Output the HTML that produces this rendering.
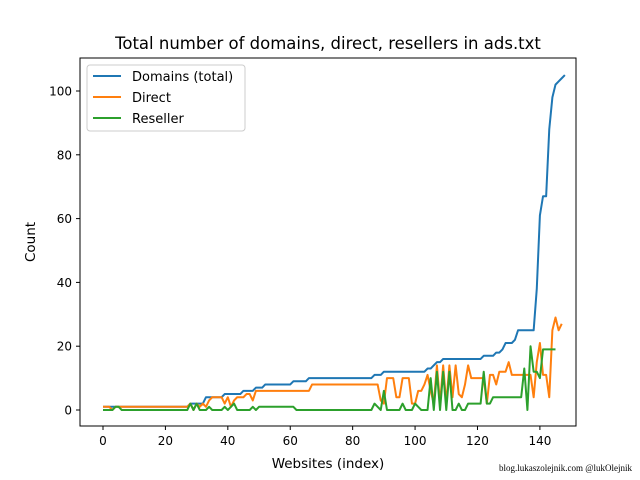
<!DOCTYPE html>
<html><head><meta charset="utf-8"><style>
body{margin:0;background:#fff;}
svg{display:block;font-family:"DejaVu Sans","Liberation Sans",sans-serif;}
</style></head><body>
<svg id="chart" width="640" height="480" viewBox="0 0 640 480">
<rect x="0" y="0" width="640" height="480" fill="#fff"/>
<text x="328" y="49" font-size="16.5" text-anchor="middle">Total number of domains, direct, resellers in ads.txt</text>
<g id="plot"></g>
<rect x="80" y="58" width="496" height="368" fill="none" stroke="#000" stroke-width="1"/>
<g id="xt"></g>
<g id="yt"></g>
<text x="328" y="468" font-size="13.5" text-anchor="middle">Websites (index)</text>
<text x="35" y="242" font-size="13.5" text-anchor="middle" transform="rotate(-90 35 242)">Count</text>
<g>
<rect x="87" y="65" width="158" height="66" rx="3" fill="#fff" stroke="#ccc" stroke-width="1"/>
<line x1="93" y1="76" x2="121" y2="76" stroke="#1f77b4" stroke-width="2"/>
<text x="132" y="81" font-size="13">Domains (total)</text>
<line x1="93" y1="97" x2="121" y2="97" stroke="#ff7f0e" stroke-width="2"/>
<text x="132" y="102" font-size="13">Direct</text>
<line x1="93" y1="118" x2="121" y2="118" stroke="#2ca02c" stroke-width="2"/>
<text x="132" y="123" font-size="13">Reseller</text>
</g>
<text x="632" y="471" font-size="9" text-anchor="end" font-family="Liberation Serif,serif">blog.lukaszolejnik.com @lukOlejnik</text>
</svg>
<script>
const domains=[1,1,1,1,1,1,1,1,1,1,1,1,1,1,1,1,1,1,1,1,1,1,1,1,1,1,1,1,
2,2,2,2,2,4,4,4,4,4,4,5,5,5,5,5,5,6,6,6,6,7,7,7,
8,8,8,8,8,8,8,8,8,9,9,9,9,9,
10,10,10,10,10,10,10,10,10,10,10,10,10,10,10,10,10,10,10,10,10,
11,11,11,12,12,12,12,12,12,12,12,12,12,12,12,12,12,13,13,14,15,15,
16,16,16,16,16,16,16,16,16,16,16,16,16,17,17,17,17,18,18,19,21,21,21,22,
25,25,25,25,25,25,38,61,67,67,88,98,102,103,104,105];
const direct=[1,1,1,0,1,1,1,1,1,1,1,1,1,1,1,1,1,1,1,1,1,1,1,1,1,1,1,
1,2,0,2,1,2,1,3,4,4,4,4,2,4,1,3,4,4,4,5,5,3,6,
6,6,6,6,6,6,6,6,6,6,6,6,6,6,6,6,6,
8,8,8,8,8,8,8,8,8,8,8,8,8,8,8,8,8,8,8,8,8,8,
3,2,10,10,10,4,4,10,10,10,2,2,6,6,8,11,6,2,14,2,14,2,14,4,14,5,4,8,14,
10,10,10,10,10,2,11,11,8,12,12,12,15,11,11,11,11,11,11,11,4,15,21,11,11,4,25,29,25,27];
const reseller=[0,0,0,0,1,1,0,0,0,0,0,0,0,0,0,0,0,0,0,0,0,0,0,0,0,0,0,0,
2,0,2,0,0,0,1,0,0,0,0,1,0,1,2,0,0,0,0,0,1,0,1,1,1,1,1,1,1,1,1,1,1,1,
0,0,0,0,0,0,0,0,0,0,0,0,0,0,0,0,0,0,0,0,0,0,0,0,0,
2,1,0,6,0,0,0,0,0,2,0,0,0,2,1,0,0,0,10,0,12,0,12,0,12,0,0,2,0,0,2,2,2,2,2,
12,2,2,4,4,4,4,4,4,4,4,4,4,13,0,20,12,12,10,19,19,19,19,19];
const xTicks=[0,20,40,60,80,100,120,140];
const yTicks=[0,20,40,60,80,100];
const X=v=>103+v*3.1207, Y=v=>410-v*3.19;
const NS='http://www.w3.org/2000/svg';
const plot=document.getElementById('plot');
function series(arr,color,name){
  const p=document.createElementNS(NS,'polyline');
  p.setAttribute('points',arr.map((v,i)=>X(i)+','+Y(v)).join(' '));
  p.setAttribute('fill','none');p.setAttribute('stroke',color);p.setAttribute('stroke-width','2');
  p.setAttribute('stroke-linejoin','round');
  
  
  plot.appendChild(p);
}
series(domains,'#1f77b4','domains-line');
series(direct,'#ff7f0e','direct-line');
series(reseller,'#2ca02c','reseller-line');
const xt=document.getElementById('xt'),yt=document.getElementById('yt');
xTicks.forEach(t=>{
  const g=document.createElementNS(NS,'g');
  
  
  g.innerHTML=`<line x1="${X(t)}" y1="426" x2="${X(t)}" y2="430" stroke="#000"/><text x="${X(t)}" y="445" font-size="12" text-anchor="middle">${t}</text>`;
  xt.appendChild(g);
});
yTicks.forEach(t=>{
  const g=document.createElementNS(NS,'g');
  
  
  g.innerHTML=`<line x1="76" y1="${Y(t)}" x2="80" y2="${Y(t)}" stroke="#000"/><text x="72" y="${Y(t)+4.5}" font-size="12" text-anchor="end">${t}</text>`;
  yt.appendChild(g);
});
</script>
</body></html>
